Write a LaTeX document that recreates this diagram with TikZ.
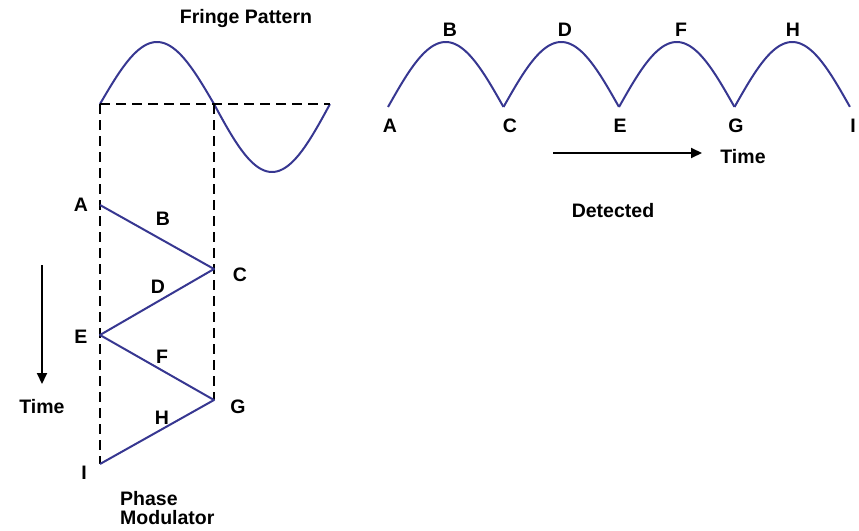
\documentclass[tikz,border=0pt]{standalone}
\usepackage{fontspec}
\setmainfont{Liberation Sans}
\usetikzlibrary{arrows.meta}
\definecolor{wave}{RGB}{55,55,145}
\begin{document}
\begin{tikzpicture}[x=1pt,y=-1pt,
  lbl/.style={font=\fontsize{19.5}{21}\selectfont\bfseries, inner sep=0pt},
  wavel/.style={draw=wave, line width=2pt, line join=round},
  dashl/.style={draw=black, line width=2.8pt, dash pattern=on 10pt off 6pt},
  arr/.style={draw=black, line width=2pt, -{Triangle[length=11pt,width=10pt]}}]
\useasboundingbox (0,0) rectangle (859,530);
% Fringe pattern
\node[lbl] (title) at (246,19) {Fringe Pattern};
\coordinate (f0) at (100,104);
\coordinate (f1) at (214,104);
\coordinate (f2) at (330,104);
\draw[wavel] plot[domain=0:1,samples=60] ({100+114*\x},{104-62*sin(180*\x)})
  -- plot[domain=0:1,samples=60] ({214+116*\x},{104+68*sin(180*\x)});
% phase modulator
\coordinate (pA) at (100,205);
\coordinate (pC) at (214,269);
\coordinate (pE) at (100,335);
\coordinate (pG) at (214,400);
\coordinate (pI) at (100,464);
\draw[dashl] (f0) -- (f2);
\draw[dashl] (f0) -- (pI);
\draw[dashl] (f1) -- (pG);
\draw[wavel] (pA) -- (pC) -- (pE) -- (pG) -- (pI);
\node[lbl] (lA) at (81,205) {A};
\node[lbl] (lB) at (163,219) {B};
\node[lbl] (lC) at (240,275) {C};
\node[lbl] (lD) at (158,287) {D};
\node[lbl] (lE) at (81,337) {E};
\node[lbl] (lF) at (162,357) {F};
\node[lbl] (lG) at (238,407) {G};
\node[lbl] (lH) at (162,418) {H};
\node[lbl] (lI) at (84,473) {I};
\coordinate (t0) at (42,265);
\coordinate (t1) at (42,384);
\draw[arr] (t0) -- (t1);
\node[lbl] (time1) at (42,407) {Time};
\node[lbl, align=left, anchor=north west] (pm) at (120,491) {Phase\\[-2pt]Modulator};
% Detected
\foreach \i in {0,1,2,3} {
  \draw[wavel] plot[domain=0:1,samples=60] ({388+\i*115.5+115.5*\x},{107-65*sin(180*\x)});
}
\node[lbl] (dA) at (390,126) {A};
\node[lbl] (dB) at (450,30) {B};
\node[lbl] (dC) at (510,126) {C};
\node[lbl] (dD) at (565,30) {D};
\node[lbl] (dE) at (620,126) {E};
\node[lbl] (dF) at (681,30) {F};
\node[lbl] (dG) at (736,126) {G};
\node[lbl] (dH) at (793,30) {H};
\node[lbl] (dI) at (853,126) {I};
\coordinate (a0) at (553,153);
\coordinate (a1) at (702,153);
\draw[arr] (a0) -- (a1);
\node[lbl] (time2) at (743,157) {Time};
\node[lbl] (det) at (613,211) {Detected};
\end{tikzpicture}
\end{document}
